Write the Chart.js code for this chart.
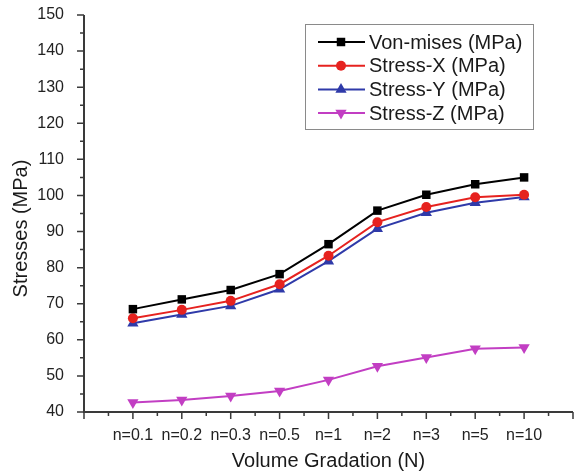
<!DOCTYPE html>
<html>
<head>
<meta charset="utf-8">
<script src="https://cdn.jsdelivr.net/npm/chart.js@4.4.1/dist/chart.umd.min.js"></script>
<style>
html,body{margin:0;padding:0;background:#fff;}
#wrap{width:575px;height:473px;position:relative;}
</style>
</head>
<body>
<div id="wrap"><canvas id="c" width="575" height="473"></canvas></div>
<script>
const categories = ['n=0.1','n=0.2','n=0.3','n=0.5','n=1','n=2','n=3','n=5','n=10'];
const vonMises = [68.5, 71.2, 73.8, 78.2, 86.5, 95.8, 100.2, 103.1, 105.0];
const stressX  = [66.0, 68.3, 70.8, 75.4, 83.3, 92.6, 96.8, 99.5, 100.2];
const stressY  = [64.6, 67.0, 69.4, 74.0, 81.8, 90.8, 95.2, 98.0, 99.6];
const stressZ  = [42.6, 43.3, 44.4, 45.8, 48.9, 52.7, 55.1, 57.5, 57.9];
const yTickMin = 40, yTickMax = 150, yMajor = 10, yMinor = 5;
const xTitle = 'Volume Gradation (N)';
const yTitle = 'Stresses (MPa)';

const toPts = arr => arr.map((v, i) => ({x: i + 1, y: v}));
const FONT = '"Liberation Sans", Arial, sans-serif';

const series = [
  {label: 'Von-mises (MPa)', data: vonMises, color: '#000000', style: 'rect', radius: 6, rot: 0},
  {label: 'Stress-X (MPa)', data: stressX, color: '#e6221f', style: 'circle', radius: 5, rot: 0},
  {label: 'Stress-Y (MPa)', data: stressY, color: '#2f3aa9', style: 'triangle', radius: 6.5, rot: 0},
  {label: 'Stress-Z (MPa)', data: stressZ, color: '#c23ec3', style: 'triangle', radius: 6.5, rot: 180},
];

function drawMarker(ctx, s, x, y) {
  ctx.save();
  ctx.fillStyle = s.color;
  ctx.beginPath();
  const r = s.radius;
  if (s.style === 'rect') {
    const h = r * Math.SQRT1_2;
    ctx.rect(x - h, y - h, 2 * h, 2 * h);
  } else if (s.style === 'circle') {
    ctx.arc(x, y, r, 0, Math.PI * 2);
  } else {
    const dir = s.rot === 180 ? -1 : 1;
    ctx.moveTo(x, y - dir * r);
    ctx.lineTo(x + r * Math.sin(Math.PI / 3), y + dir * r * 0.5);
    ctx.lineTo(x - r * Math.sin(Math.PI / 3), y + dir * r * 0.5);
    ctx.closePath();
  }
  ctx.fill();
  ctx.restore();
}

const axesPlugin = {
  id: 'axesPlugin',
  afterDraw(chart) {
    const ctx = chart.ctx;
    const xs = chart.scales.x, ys = chart.scales.y;
    const ca = chart.chartArea;
    ctx.save();
    ctx.strokeStyle = '#3a3a3a';
    ctx.lineWidth = 2;
    ctx.beginPath();
    ctx.moveTo(ca.left, ca.top);
    ctx.lineTo(ca.left, ca.bottom);
    ctx.lineTo(ca.right, ca.bottom);
    ctx.stroke();
    ctx.lineWidth = 1.5;
    ctx.beginPath();
    ys.ticks.forEach(t => {
      const py = ys.getPixelForValue(t.value);
      const major = Math.abs(t.value % yMajor) < 1e-6;
      ctx.moveTo(ca.left, py);
      ctx.lineTo(ca.left - (major ? 7 : 4), py);
    });
    xs.ticks.forEach(t => {
      const px = xs.getPixelForValue(t.value);
      const major = Math.abs(t.value % 1) < 1e-6;
      ctx.moveTo(px, ca.bottom);
      ctx.lineTo(px, ca.bottom + (major ? 7 : 4));
    });
    ctx.stroke();

    // y axis title
    ctx.save();
    ctx.translate(21, (ca.top + ca.bottom) / 2 + 15);
    ctx.rotate(-Math.PI / 2);
    ctx.font = '20px ' + FONT;
    ctx.fillStyle = '#1a1a1a';
    ctx.textAlign = 'center';
    ctx.textBaseline = 'middle';
    ctx.fillText(yTitle, 0, 0);
    ctx.restore();

    // legend
    const bx = ca.right - 268, by = ca.top + 9, bw = 228, bh = 105;
    ctx.strokeStyle = '#8a8a8a';
    ctx.lineWidth = 1;
    ctx.strokeRect(bx + 0.5, by + 0.5, bw, bh);
    ctx.font = '20px ' + FONT;
    ctx.textBaseline = 'middle';
    ctx.textAlign = 'left';
    series.forEach((s, i) => {
      const yy = by + 18 + i * 23.7;
      ctx.strokeStyle = s.color;
      ctx.lineWidth = 2;
      ctx.beginPath();
      ctx.moveTo(bx + 13, yy);
      ctx.lineTo(bx + 60, yy);
      ctx.stroke();
      drawMarker(ctx, s, bx + 36, yy);
      ctx.fillStyle = '#1a1a1a';
      ctx.fillText(s.label, bx + 64, yy + 1);
    });
    ctx.restore();
  }
};

new Chart(document.getElementById('c'), {
  type: 'line',
  data: {
    datasets: series.map(s => ({
      label: s.label,
      data: toPts(s.data),
      borderColor: s.color,
      backgroundColor: s.color,
      pointBackgroundColor: s.color,
      pointBorderColor: s.color,
      pointBorderWidth: 0,
      pointStyle: s.style,
      pointRadius: s.radius,
      pointRotation: s.rot,
      borderWidth: 2,
      tension: 0,
      fill: false,
    }))
  },
  options: {
    responsive: false,
    animation: false,
    events: [],
    layout: {autoPadding: false, padding: {top: 15, right: 2, left: 0, bottom: 0}},
    plugins: {legend: {display: false}, tooltip: {enabled: false}},
    scales: {
      x: {
        type: 'linear',
        min: 0, max: 10,
        grid: {display: false},
        border: {display: false},
        afterFit(s) { s.height = 61; s.paddingLeft = 0; s.paddingRight = 0; },
        afterBuildTicks(s) {
          const t = [];
          for (let v = 0; v <= 10; v += 0.5) t.push({value: v});
          s.ticks = t;
        },
        ticks: {
          autoSkip: false, maxRotation: 0, padding: 6,
          color: '#222',
          font: {family: FONT, size: 16},
          callback: v => (Number.isInteger(v) && v >= 1 && v <= categories.length) ? categories[v - 1] : ''
        },
        title: {display: true, text: xTitle, color: '#1a1a1a', font: {family: FONT, size: 20}, padding: {top: 3, bottom: 0}}
      },
      y: {
        type: 'linear',
        min: yTickMin, max: yTickMax,
        grid: {display: false},
        border: {display: false},
        afterFit(s) { s.width = 84; s.paddingTop = 0; s.paddingBottom = 0; },
        ticks: {
          stepSize: yMinor, autoSkip: false, padding: 12,
          color: '#222',
          font: {family: FONT, size: 16},
          callback: v => (v % yMajor === 0) ? String(v) : ''
        },
        title: {display: false}
      }
    }
  },
  plugins: [axesPlugin]
});
</script>
</body>
</html>
